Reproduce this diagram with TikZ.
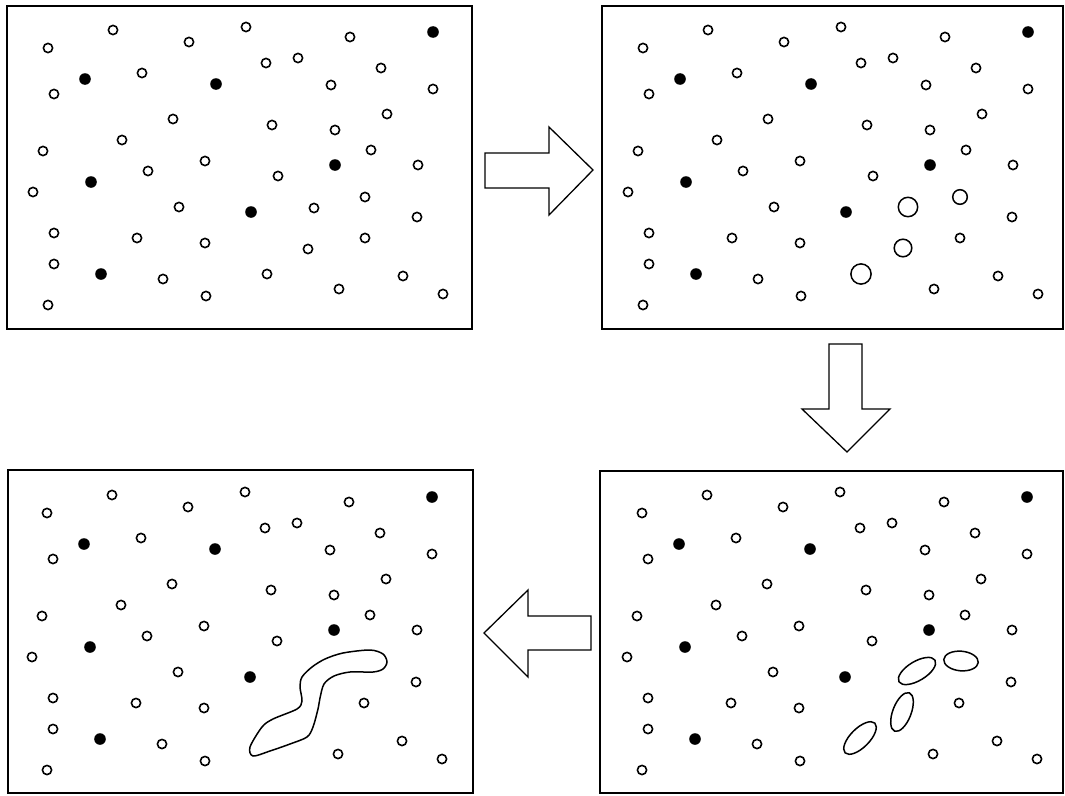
\documentclass[tikz,border=0pt]{standalone}
\begin{document}
\begin{tikzpicture}[x=1pt,y=-1pt,
  panel/.style={draw,line width=1.2pt},
  odot/.style={draw,line width=1.6pt},
  fdot/.style={fill=black},
  bigring/.style={draw,line width=1.5pt},
  blockarrow/.style={draw,line width=1.3pt,line join=miter,fill=white},
]
\useasboundingbox (0,0) rectangle (1065,795);
\def\opendots{48/48,113/30,189/42,246/27,350/37,266/63,298/58,142/73,331/85,381/68,433/89,54/94,173/119,272/125,335/130,387/114,122/140,43/151,371/150,205/161,418/165,148/171,278/176,33/192,179/207,417/217,54/233,137/238,205/243,365/238,54/264,163/279,403/276,48/305,206/296,339/289,443/294}
\def\filleddots{433/32,85/79,216/84,335/165,91/182,251/212,101/274}
\newcommand\dotfield{%
  \foreach \x/\y in \opendots {\draw[odot] (\x,\y) circle[radius=4.6];}
  \foreach \x/\y in \filleddots {\fill[fdot] (\x,\y) circle[radius=5.8];}
}
% panel 1
\draw[panel] (7,6) rectangle (472,329);
\dotfield
\foreach \x/\y in {314/208,365/197,308/249,267/274} {\draw[odot] (\x,\y) circle[radius=4.6];}
% panel 2
\draw[panel] (602,6) rectangle (1063,329);
\begin{scope}[shift={(595,0)}]
  \dotfield
  \draw[bigring] (313,207) circle[radius=9.7];
  \draw[bigring] (365,197) circle[radius=7.3];
  \draw[bigring] (308,248) circle[radius=8.8];
  \draw[bigring] (266,274) circle[radius=10.1];
\end{scope}
% panel 3
\draw[panel] (600,471) rectangle (1063,793);
\begin{scope}[shift={(594,465)}]
  \dotfield
  \draw[bigring,rotate around={31:(323,206)}] (323,206) ellipse [x radius=21, y radius=9.6];
  \draw[bigring,rotate around={-5:(367,196)}] (367,196) ellipse [x radius=17.3, y radius=9.8];
  \draw[bigring,rotate around={69:(308,247)}] (308,247) ellipse [x radius=20.5, y radius=9.2];
  \draw[bigring,rotate around={45:(266,273)}] (266,273) ellipse [x radius=21, y radius=9.5];
\end{scope}
% panel 4
\draw[panel] (8,470) rectangle (473,793);
\begin{scope}[shift={(-1,465)}]
  \dotfield
\end{scope}
\draw[bigring] plot[smooth cycle,tension=0.5] coordinates {(253,756) (250,747) (262,727) (273,719) (297,709) (302,701) (300,687) (302,677) (312,667) (325,659) (343,653) (370,650) (383,654) (387,662) (383,669) (373,672) (350,672) (334,676) (324,684) (320,698) (318,709) (313,727) (307,737) (290,744) (270,751)};
% arrows
\draw[blockarrow] (485,153) -- (549,153) -- (549,127) -- (593,170) -- (549,215) -- (549,188) -- (485,188) -- cycle;
\draw[blockarrow] (829,344) -- (862,344) -- (862,409) -- (890,409) -- (847,452) -- (802,409) -- (829,409) -- cycle;
\draw[blockarrow] (591,616) -- (528,616) -- (528,590) -- (484,633) -- (528,677) -- (528,650) -- (591,650) -- cycle;
\end{tikzpicture}
\end{document}
